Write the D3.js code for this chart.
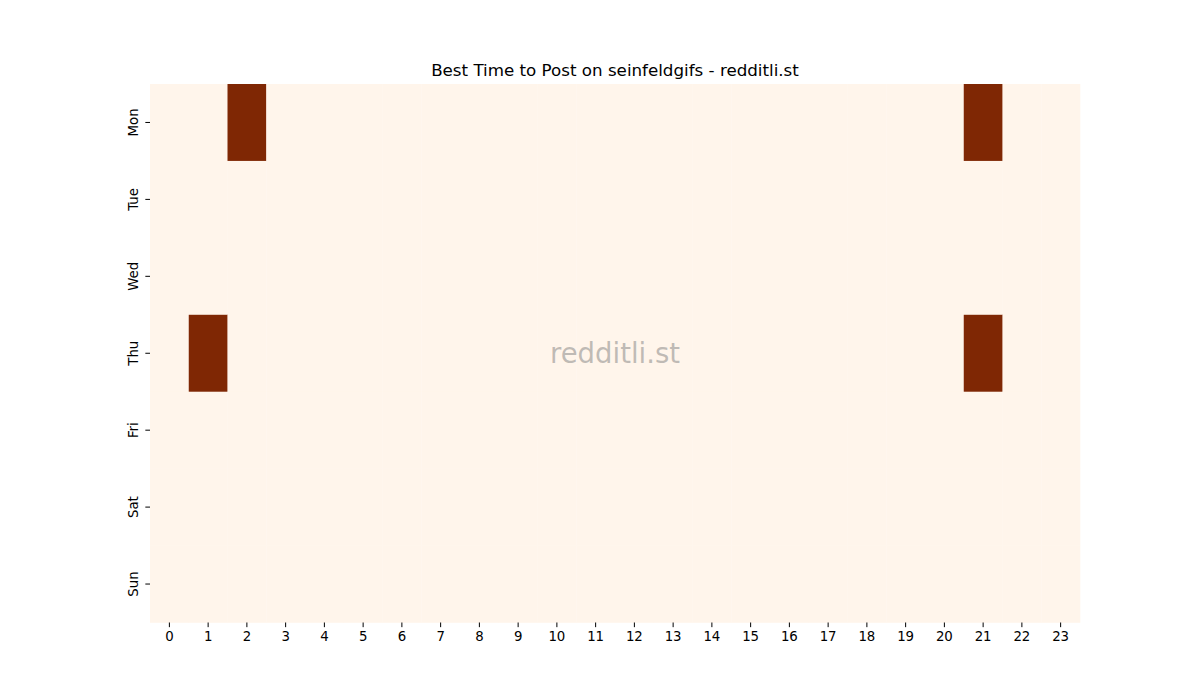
<!DOCTYPE html>
<meta charset="utf-8">
<head>
    <title>Best Time to Post on seinfeldgifs</title>
    <style>
        body { margin: 0; background: #fff; }
        text { font-family: "DejaVu Sans", sans-serif; }
    </style>
</head>
<body>
    <svg width="1200" height="700"></svg>
    <script src="https://cdn.jsdelivr.net/npm/d3@7"></script>
    <script>
        // post scores by weekday (rows) and hour of day (columns)
        var days = ["Mon", "Tue", "Wed", "Thu", "Fri", "Sat", "Sun"];
        var hours = ["0", "1", "2", "3", "4", "5", "6", "7", "8", "9", "10", "11",
                     "12", "13", "14", "15", "16", "17", "18", "19", "20", "21", "22", "23"];
        var values = [
            [0, 0, 1, 0, 0, 0, 0, 0, 0, 0, 0, 0, 0, 0, 0, 0, 0, 0, 0, 0, 0, 1, 0, 0],
            [0, 0, 0, 0, 0, 0, 0, 0, 0, 0, 0, 0, 0, 0, 0, 0, 0, 0, 0, 0, 0, 0, 0, 0],
            [0, 0, 0, 0, 0, 0, 0, 0, 0, 0, 0, 0, 0, 0, 0, 0, 0, 0, 0, 0, 0, 0, 0, 0],
            [0, 1, 0, 0, 0, 0, 0, 0, 0, 0, 0, 0, 0, 0, 0, 0, 0, 0, 0, 0, 0, 1, 0, 0],
            [0, 0, 0, 0, 0, 0, 0, 0, 0, 0, 0, 0, 0, 0, 0, 0, 0, 0, 0, 0, 0, 0, 0, 0],
            [0, 0, 0, 0, 0, 0, 0, 0, 0, 0, 0, 0, 0, 0, 0, 0, 0, 0, 0, 0, 0, 0, 0, 0],
            [0, 0, 0, 0, 0, 0, 0, 0, 0, 0, 0, 0, 0, 0, 0, 0, 0, 0, 0, 0, 0, 0, 0, 0]
        ];

        var svg = d3.select("svg");
        // plot box (window.top is read-only, so no bare "top")
        var plotLeft = 150, plotRight = 1080, plotTop = 84, plotBottom = 622.5;

        var x = d3.scaleBand().domain(hours).range([plotLeft, plotRight]);
        var y = d3.scaleBand().domain(days).range([plotTop, plotBottom]);

        var flat = [];
        values.forEach(function(row, i) {
            row.forEach(function(v, j) {
                flat.push({ day: days[i], hour: hours[j], value: v });
            });
        });

        var color = d3.scaleSequential(d3.interpolateOranges)
            .domain(d3.extent(flat, function(d) { return d.value; }));

        svg.append("g").selectAll("rect")
            .data(flat)
            .enter().append("rect")
            .attr("x", function(d) { return x(d.hour); })
            .attr("y", function(d) { return y(d.day); })
            .attr("width", x.bandwidth() + 0.3)
            .attr("height", y.bandwidth() + 0.3)
            .attr("fill", function(d) { return color(d.value); });

        // watermark
        svg.append("text")
            .attr("x", (plotLeft + plotRight) / 2)
            .attr("y", (plotTop + plotBottom) / 2)
            .attr("text-anchor", "middle")
            .attr("dominant-baseline", "central")
            .attr("font-size", 27.5)
            .attr("fill", "grey")
            .attr("fill-opacity", 0.5)
            .text("redditli.st");

        var xAxis = svg.append("g")
            .attr("transform", "translate(0," + plotBottom + ")")
            .call(d3.axisBottom(x).tickSize(4.67).tickPadding(4.5));
        xAxis.select(".domain").remove();
        xAxis.selectAll("text").attr("font-size", 13.33).attr("fill", "#000")
            .style("font-family", "DejaVu Sans, sans-serif");

        var yAxis = svg.append("g")
            .attr("transform", "translate(" + plotLeft + ",0)")
            .call(d3.axisLeft(y).tickSize(4.67).tickPadding(4.5));
        yAxis.select(".domain").remove();
        yAxis.selectAll("text")
            .attr("font-size", 13.33)
            .attr("fill", "#000")
            .style("font-family", "DejaVu Sans, sans-serif")
            .attr("x", null)
            .attr("dy", null)
            .attr("text-anchor", "middle")
            .attr("dominant-baseline", "central")
            .attr("transform", "translate(-17,0) rotate(-90)");

        svg.append("text")
            .attr("x", (plotLeft + plotRight) / 2)
            .attr("y", 76)
            .attr("text-anchor", "middle")
            .attr("font-size", 16.7)
            .text("Best Time to Post on seinfeldgifs - redditli.st");
    </script>
</body>
